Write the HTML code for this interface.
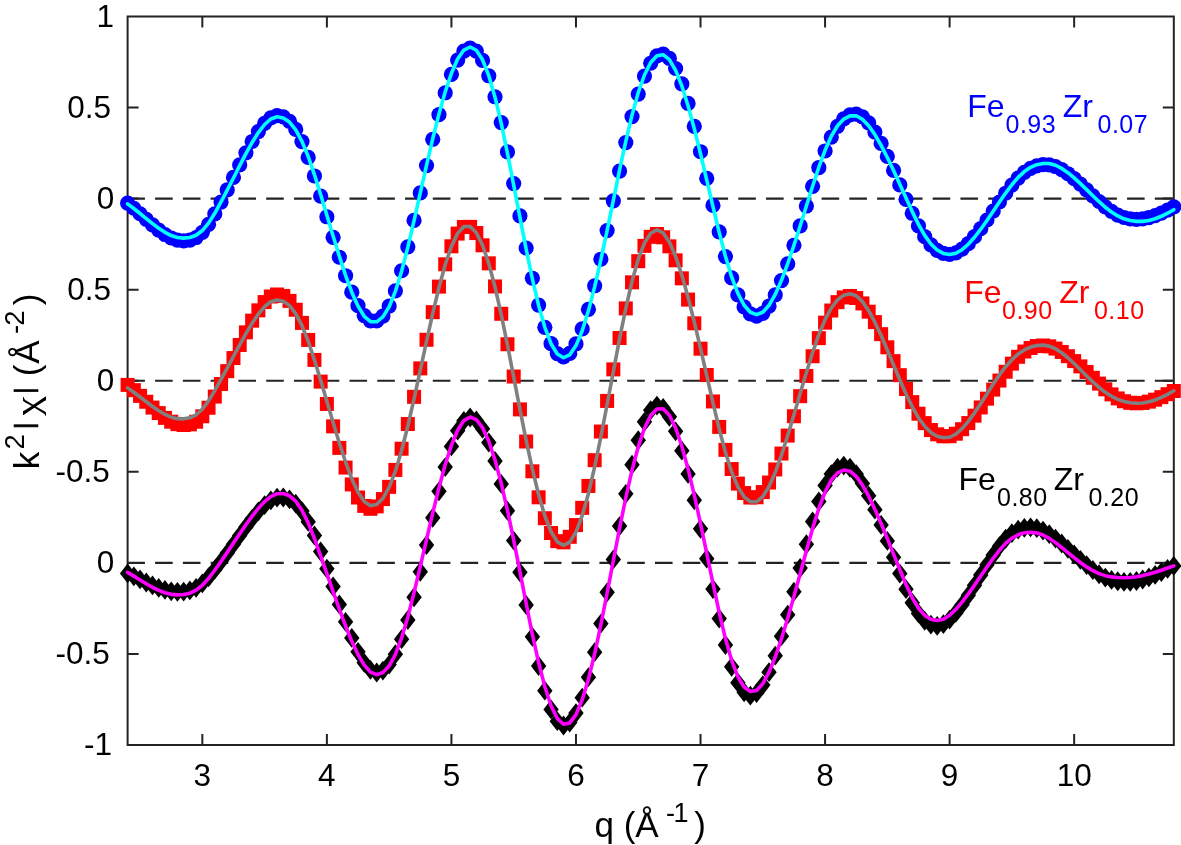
<!DOCTYPE html><html><head><meta charset="utf-8"><title>plot</title><style>html,body{margin:0;padding:0;background:#fff;overflow:hidden}svg{display:block}</style></head><body><svg width="1181" height="845" viewBox="0 0 1181 845"><rect width="1181" height="845" fill="#fff"/><path d="M202.33 745.0V734.0M202.33 16.5V27.5M326.88 745.0V734.0M326.88 16.5V27.5M451.42 745.0V734.0M451.42 16.5V27.5M575.97 745.0V734.0M575.97 16.5V27.5M700.52 745.0V734.0M700.52 16.5V27.5M825.07 745.0V734.0M825.07 16.5V27.5M949.61 745.0V734.0M949.61 16.5V27.5M1074.16 745.0V734.0M1074.16 16.5V27.5M127.6 107.56H138.6M1173.8 107.56H1162.8M127.6 198.62H138.6M1173.8 198.62H1162.8M127.6 289.69H138.6M1173.8 289.69H1162.8M127.6 380.75H138.6M1173.8 380.75H1162.8M127.6 471.81H138.6M1173.8 471.81H1162.8M127.6 562.88H138.6M1173.8 562.88H1162.8M127.6 653.94H138.6M1173.8 653.94H1162.8" stroke="#232323" stroke-width="2" fill="none"/><rect x="127.6" y="16.5" width="1046.20" height="728.50" fill="none" stroke="#232323" stroke-width="2"/><line x1="127.33" y1="198.62" x2="1173.8" y2="198.62" stroke="#232323" stroke-width="2.2" stroke-dasharray="17.6 10.17"/><line x1="127.33" y1="380.75" x2="1173.8" y2="380.75" stroke="#232323" stroke-width="2.2" stroke-dasharray="17.6 10.17"/><line x1="127.33" y1="562.88" x2="1173.8" y2="562.88" stroke="#232323" stroke-width="2.2" stroke-dasharray="17.6 10.17"/><g fill="#0000ff"><circle cx="127.60" cy="203.10" r="7.6"/><circle cx="133.83" cy="208.25" r="7.6"/><circle cx="140.05" cy="213.75" r="7.6"/><circle cx="146.28" cy="219.39" r="7.6"/><circle cx="152.51" cy="224.92" r="7.6"/><circle cx="158.74" cy="230.07" r="7.6"/><circle cx="164.96" cy="234.52" r="7.6"/><circle cx="171.19" cy="237.98" r="7.6"/><circle cx="177.42" cy="240.14" r="7.6"/><circle cx="183.65" cy="240.80" r="7.6"/><circle cx="189.87" cy="240.08" r="7.6"/><circle cx="196.10" cy="237.51" r="7.6"/><circle cx="202.33" cy="232.35" r="7.6"/><circle cx="208.56" cy="224.36" r="7.6"/><circle cx="214.78" cy="213.93" r="7.6"/><circle cx="221.01" cy="202.09" r="7.6"/><circle cx="227.24" cy="189.92" r="7.6"/><circle cx="233.47" cy="177.41" r="7.6"/><circle cx="239.69" cy="164.89" r="7.6"/><circle cx="245.92" cy="152.78" r="7.6"/><circle cx="252.15" cy="141.49" r="7.6"/><circle cx="258.38" cy="131.52" r="7.6"/><circle cx="264.60" cy="123.45" r="7.6"/><circle cx="270.83" cy="117.92" r="7.6"/><circle cx="277.06" cy="115.71" r="7.6"/><circle cx="283.28" cy="116.88" r="7.6"/><circle cx="289.51" cy="121.27" r="7.6"/><circle cx="295.74" cy="129.45" r="7.6"/><circle cx="301.97" cy="141.60" r="7.6"/><circle cx="308.19" cy="157.38" r="7.6"/><circle cx="314.42" cy="175.98" r="7.6"/><circle cx="320.65" cy="196.16" r="7.6"/><circle cx="326.88" cy="216.77" r="7.6"/><circle cx="333.10" cy="237.34" r="7.6"/><circle cx="339.33" cy="257.23" r="7.6"/><circle cx="345.56" cy="275.74" r="7.6"/><circle cx="351.79" cy="292.16" r="7.6"/><circle cx="358.01" cy="305.70" r="7.6"/><circle cx="364.24" cy="315.54" r="7.6"/><circle cx="370.47" cy="320.83" r="7.6"/><circle cx="376.70" cy="320.91" r="7.6"/><circle cx="382.92" cy="316.08" r="7.6"/><circle cx="389.15" cy="306.05" r="7.6"/><circle cx="395.38" cy="290.80" r="7.6"/><circle cx="401.60" cy="270.75" r="7.6"/><circle cx="407.83" cy="246.85" r="7.6"/><circle cx="414.06" cy="220.40" r="7.6"/><circle cx="420.29" cy="192.94" r="7.6"/><circle cx="426.51" cy="165.62" r="7.6"/><circle cx="432.74" cy="139.26" r="7.6"/><circle cx="438.97" cy="114.70" r="7.6"/><circle cx="445.20" cy="92.76" r="7.6"/><circle cx="451.42" cy="74.29" r="7.6"/><circle cx="457.65" cy="60.12" r="7.6"/><circle cx="463.88" cy="51.10" r="7.6"/><circle cx="470.11" cy="48.00" r="7.6"/><circle cx="476.33" cy="51.12" r="7.6"/><circle cx="482.56" cy="60.39" r="7.6"/><circle cx="488.79" cy="75.76" r="7.6"/><circle cx="495.02" cy="96.76" r="7.6"/><circle cx="501.24" cy="122.54" r="7.6"/><circle cx="507.47" cy="151.95" r="7.6"/><circle cx="513.70" cy="183.57" r="7.6"/><circle cx="519.93" cy="215.94" r="7.6"/><circle cx="526.15" cy="248.00" r="7.6"/><circle cx="532.38" cy="278.24" r="7.6"/><circle cx="538.61" cy="305.12" r="7.6"/><circle cx="544.83" cy="327.28" r="7.6"/><circle cx="551.06" cy="343.66" r="7.6"/><circle cx="557.29" cy="353.59" r="7.6"/><circle cx="563.52" cy="356.80" r="7.6"/><circle cx="569.74" cy="353.42" r="7.6"/><circle cx="575.97" cy="343.92" r="7.6"/><circle cx="582.20" cy="328.95" r="7.6"/><circle cx="588.43" cy="309.29" r="7.6"/><circle cx="594.65" cy="285.76" r="7.6"/><circle cx="600.88" cy="259.23" r="7.6"/><circle cx="607.11" cy="230.61" r="7.6"/><circle cx="613.34" cy="200.86" r="7.6"/><circle cx="619.56" cy="171.07" r="7.6"/><circle cx="625.79" cy="142.55" r="7.6"/><circle cx="632.02" cy="116.53" r="7.6"/><circle cx="638.25" cy="94.08" r="7.6"/><circle cx="644.47" cy="76.10" r="7.6"/><circle cx="650.70" cy="63.23" r="7.6"/><circle cx="656.93" cy="55.85" r="7.6"/><circle cx="663.15" cy="54.11" r="7.6"/><circle cx="669.38" cy="58.39" r="7.6"/><circle cx="675.61" cy="68.50" r="7.6"/><circle cx="681.84" cy="83.78" r="7.6"/><circle cx="688.06" cy="103.38" r="7.6"/><circle cx="694.29" cy="126.36" r="7.6"/><circle cx="700.52" cy="151.73" r="7.6"/><circle cx="706.75" cy="178.42" r="7.6"/><circle cx="712.97" cy="205.43" r="7.6"/><circle cx="719.20" cy="231.93" r="7.6"/><circle cx="725.43" cy="256.55" r="7.6"/><circle cx="731.66" cy="277.90" r="7.6"/><circle cx="737.88" cy="294.91" r="7.6"/><circle cx="744.11" cy="306.97" r="7.6"/><circle cx="750.34" cy="313.93" r="7.6"/><circle cx="756.57" cy="316.10" r="7.6"/><circle cx="762.79" cy="313.46" r="7.6"/><circle cx="769.02" cy="306.13" r="7.6"/><circle cx="775.25" cy="294.91" r="7.6"/><circle cx="781.48" cy="280.55" r="7.6"/><circle cx="787.70" cy="263.81" r="7.6"/><circle cx="793.93" cy="245.37" r="7.6"/><circle cx="800.16" cy="225.90" r="7.6"/><circle cx="806.38" cy="206.01" r="7.6"/><circle cx="812.61" cy="186.31" r="7.6"/><circle cx="818.84" cy="167.66" r="7.6"/><circle cx="825.07" cy="150.98" r="7.6"/><circle cx="831.29" cy="137.03" r="7.6"/><circle cx="837.52" cy="126.28" r="7.6"/><circle cx="843.75" cy="118.94" r="7.6"/><circle cx="849.98" cy="114.95" r="7.6"/><circle cx="856.20" cy="114.08" r="7.6"/><circle cx="862.43" cy="116.77" r="7.6"/><circle cx="868.66" cy="122.94" r="7.6"/><circle cx="874.89" cy="132.02" r="7.6"/><circle cx="881.11" cy="143.38" r="7.6"/><circle cx="887.34" cy="156.39" r="7.6"/><circle cx="893.57" cy="170.44" r="7.6"/><circle cx="899.80" cy="184.95" r="7.6"/><circle cx="906.02" cy="199.36" r="7.6"/><circle cx="912.25" cy="213.26" r="7.6"/><circle cx="918.48" cy="225.95" r="7.6"/><circle cx="924.70" cy="236.64" r="7.6"/><circle cx="930.93" cy="244.84" r="7.6"/><circle cx="937.16" cy="250.39" r="7.6"/><circle cx="943.39" cy="253.43" r="7.6"/><circle cx="949.61" cy="254.30" r="7.6"/><circle cx="955.84" cy="252.90" r="7.6"/><circle cx="962.07" cy="249.20" r="7.6"/><circle cx="968.30" cy="243.64" r="7.6"/><circle cx="974.52" cy="236.66" r="7.6"/><circle cx="980.75" cy="228.66" r="7.6"/><circle cx="986.98" cy="220.00" r="7.6"/><circle cx="993.21" cy="211.01" r="7.6"/><circle cx="999.43" cy="202.00" r="7.6"/><circle cx="1005.66" cy="193.24" r="7.6"/><circle cx="1011.89" cy="185.10" r="7.6"/><circle cx="1018.12" cy="178.06" r="7.6"/><circle cx="1024.34" cy="172.44" r="7.6"/><circle cx="1030.57" cy="168.39" r="7.6"/><circle cx="1036.80" cy="165.86" r="7.6"/><circle cx="1043.02" cy="164.72" r="7.6"/><circle cx="1049.25" cy="164.84" r="7.6"/><circle cx="1055.48" cy="166.52" r="7.6"/><circle cx="1061.71" cy="169.58" r="7.6"/><circle cx="1067.93" cy="173.73" r="7.6"/><circle cx="1074.16" cy="178.69" r="7.6"/><circle cx="1080.39" cy="184.18" r="7.6"/><circle cx="1086.62" cy="189.97" r="7.6"/><circle cx="1092.84" cy="195.81" r="7.6"/><circle cx="1099.07" cy="201.50" r="7.6"/><circle cx="1105.30" cy="206.84" r="7.6"/><circle cx="1111.53" cy="211.46" r="7.6"/><circle cx="1117.75" cy="215.05" r="7.6"/><circle cx="1123.98" cy="217.50" r="7.6"/><circle cx="1130.21" cy="218.86" r="7.6"/><circle cx="1136.44" cy="219.30" r="7.6"/><circle cx="1142.66" cy="218.91" r="7.6"/><circle cx="1148.89" cy="217.67" r="7.6"/><circle cx="1155.12" cy="215.68" r="7.6"/><circle cx="1161.35" cy="213.10" r="7.6"/><circle cx="1167.57" cy="210.09" r="7.6"/><circle cx="1173.80" cy="206.80" r="7.6"/></g><path d="M127.60,203.90 L133.83,208.52 L140.05,213.47 L146.28,218.58 L152.51,223.61 L158.74,228.30 L164.96,232.36 L171.19,235.52 L177.42,237.50 L183.65,238.10 L189.87,237.50 L196.10,235.23 L202.33,230.55 L208.56,223.13 L214.78,213.28 L221.01,201.96 L227.24,190.20 L233.47,177.98 L239.69,165.67 L245.92,153.67 L252.15,142.45 L258.38,132.53 L264.60,124.49 L270.83,119.01 L277.06,116.81 L283.28,117.92 L289.51,122.06 L295.74,129.79 L301.97,141.33 L308.19,156.49 L314.42,174.58 L320.65,194.52 L326.88,215.17 L333.10,235.99 L339.33,256.28 L345.56,275.28 L351.79,292.19 L358.01,306.15 L364.24,316.29 L370.47,321.71 L376.70,321.80 L382.92,316.90 L389.15,306.78 L395.38,291.40 L401.60,271.23 L407.83,247.18 L414.06,220.56 L420.29,192.89 L426.51,165.36 L432.74,138.78 L438.97,114.02 L445.20,91.92 L451.42,73.32 L457.65,59.07 L463.88,50.03 L470.11,47.00 L476.33,50.27 L482.56,59.84 L488.79,75.63 L495.02,97.14 L501.24,123.45 L507.47,153.27 L513.70,185.11 L519.93,217.44 L526.15,249.18 L532.38,278.94 L538.61,305.38 L544.83,327.30 L551.06,343.73 L557.29,353.98 L563.52,357.69 L569.74,354.79 L575.97,345.59 L582.20,330.69 L588.43,310.83 L594.65,286.90 L600.88,259.83 L607.11,230.65 L613.34,200.40 L619.56,170.21 L625.79,141.35 L632.02,115.14 L638.25,92.72 L644.47,74.98 L650.70,62.56 L656.93,55.78 L663.15,54.68 L669.38,59.64 L675.61,70.30 L681.84,85.95 L688.06,105.72 L694.29,128.65 L700.52,153.77 L706.75,180.07 L712.97,206.57 L719.20,232.40 L725.43,256.26 L731.66,276.91 L737.88,293.41 L744.11,305.23 L750.34,312.22 L756.57,314.59 L762.79,312.30 L769.02,305.32 L775.25,294.40 L781.48,280.29 L787.70,263.72 L793.93,245.39 L800.16,225.94 L806.38,206.03 L812.61,186.21 L818.84,167.23 L825.07,150.26 L831.29,136.24 L837.52,125.77 L843.75,119.03 L849.98,115.83 L856.20,115.79 L862.43,119.21 L868.66,125.66 L874.89,134.55 L881.11,145.31 L887.34,157.47 L893.57,170.57 L899.80,184.22 L906.02,198.01 L912.25,211.62 L918.48,224.36 L924.70,235.36 L930.93,244.01 L937.16,250.02 L943.39,253.41 L949.61,254.50 L955.84,253.29 L962.07,249.72 L968.30,244.23 L974.52,237.26 L980.75,229.20 L986.98,220.44 L993.21,211.29 L999.43,202.08 L1005.66,193.09 L1011.89,184.71 L1018.12,177.42 L1024.34,171.57 L1030.57,167.31 L1036.80,164.65 L1043.03,163.43 L1049.25,163.54 L1055.48,165.26 L1061.71,168.41 L1067.93,172.71 L1074.16,177.87 L1080.39,183.61 L1086.62,189.66 L1092.84,195.77 L1099.07,201.71 L1105.30,207.25 L1111.53,212.07 L1117.75,215.94 L1123.98,218.77 L1130.21,220.55 L1136.44,221.39 L1142.66,221.40 L1148.89,220.49 L1155.12,218.74 L1161.35,216.26 L1167.57,213.20 L1173.80,209.70" fill="none" stroke="#00ffff" stroke-width="3.6" stroke-linejoin="round" stroke-linecap="round"/><g fill="#ff0000"><rect x="120.60" y="377.90" width="14.0" height="14.0"/><rect x="126.83" y="383.16" width="14.0" height="14.0"/><rect x="133.05" y="388.84" width="14.0" height="14.0"/><rect x="139.28" y="394.74" width="14.0" height="14.0"/><rect x="145.51" y="400.59" width="14.0" height="14.0"/><rect x="151.74" y="406.09" width="14.0" height="14.0"/><rect x="157.96" y="410.90" width="14.0" height="14.0"/><rect x="164.19" y="414.69" width="14.0" height="14.0"/><rect x="170.42" y="417.15" width="14.0" height="14.0"/><rect x="176.65" y="418.00" width="14.0" height="14.0"/><rect x="182.87" y="417.36" width="14.0" height="14.0"/><rect x="189.10" y="414.74" width="14.0" height="14.0"/><rect x="195.33" y="409.29" width="14.0" height="14.0"/><rect x="201.56" y="400.75" width="14.0" height="14.0"/><rect x="207.78" y="389.58" width="14.0" height="14.0"/><rect x="214.01" y="377.00" width="14.0" height="14.0"/><rect x="220.24" y="364.17" width="14.0" height="14.0"/><rect x="226.47" y="351.05" width="14.0" height="14.0"/><rect x="232.69" y="337.97" width="14.0" height="14.0"/><rect x="238.92" y="325.36" width="14.0" height="14.0"/><rect x="245.15" y="313.65" width="14.0" height="14.0"/><rect x="251.38" y="303.35" width="14.0" height="14.0"/><rect x="257.60" y="295.07" width="14.0" height="14.0"/><rect x="263.83" y="289.52" width="14.0" height="14.0"/><rect x="270.06" y="287.50" width="14.0" height="14.0"/><rect x="276.28" y="288.96" width="14.0" height="14.0"/><rect x="282.51" y="293.85" width="14.0" height="14.0"/><rect x="288.74" y="302.77" width="14.0" height="14.0"/><rect x="294.97" y="315.90" width="14.0" height="14.0"/><rect x="301.19" y="332.92" width="14.0" height="14.0"/><rect x="307.42" y="352.94" width="14.0" height="14.0"/><rect x="313.65" y="374.63" width="14.0" height="14.0"/><rect x="319.88" y="396.97" width="14.0" height="14.0"/><rect x="326.10" y="419.36" width="14.0" height="14.0"/><rect x="332.33" y="440.88" width="14.0" height="14.0"/><rect x="338.56" y="460.57" width="14.0" height="14.0"/><rect x="344.79" y="477.43" width="14.0" height="14.0"/><rect x="351.01" y="490.52" width="14.0" height="14.0"/><rect x="357.24" y="498.90" width="14.0" height="14.0"/><rect x="363.47" y="501.80" width="14.0" height="14.0"/><rect x="369.70" y="499.38" width="14.0" height="14.0"/><rect x="375.92" y="492.07" width="14.0" height="14.0"/><rect x="382.15" y="479.85" width="14.0" height="14.0"/><rect x="388.38" y="462.91" width="14.0" height="14.0"/><rect x="394.60" y="441.71" width="14.0" height="14.0"/><rect x="400.83" y="417.02" width="14.0" height="14.0"/><rect x="407.06" y="389.85" width="14.0" height="14.0"/><rect x="413.29" y="361.39" width="14.0" height="14.0"/><rect x="419.51" y="332.79" width="14.0" height="14.0"/><rect x="425.74" y="305.15" width="14.0" height="14.0"/><rect x="431.97" y="279.61" width="14.0" height="14.0"/><rect x="438.20" y="257.30" width="14.0" height="14.0"/><rect x="444.42" y="239.31" width="14.0" height="14.0"/><rect x="450.65" y="226.59" width="14.0" height="14.0"/><rect x="456.88" y="219.95" width="14.0" height="14.0"/><rect x="463.11" y="219.87" width="14.0" height="14.0"/><rect x="469.33" y="226.05" width="14.0" height="14.0"/><rect x="475.56" y="238.32" width="14.0" height="14.0"/><rect x="481.79" y="256.33" width="14.0" height="14.0"/><rect x="488.02" y="279.45" width="14.0" height="14.0"/><rect x="494.24" y="306.79" width="14.0" height="14.0"/><rect x="500.47" y="337.24" width="14.0" height="14.0"/><rect x="506.70" y="369.53" width="14.0" height="14.0"/><rect x="512.93" y="402.38" width="14.0" height="14.0"/><rect x="519.15" y="434.50" width="14.0" height="14.0"/><rect x="525.38" y="464.32" width="14.0" height="14.0"/><rect x="531.61" y="490.32" width="14.0" height="14.0"/><rect x="537.83" y="511.23" width="14.0" height="14.0"/><rect x="544.06" y="526.03" width="14.0" height="14.0"/><rect x="550.29" y="534.13" width="14.0" height="14.0"/><rect x="556.52" y="535.34" width="14.0" height="14.0"/><rect x="562.74" y="529.80" width="14.0" height="14.0"/><rect x="568.97" y="518.06" width="14.0" height="14.0"/><rect x="575.20" y="500.84" width="14.0" height="14.0"/><rect x="581.43" y="478.93" width="14.0" height="14.0"/><rect x="587.65" y="453.19" width="14.0" height="14.0"/><rect x="593.88" y="424.53" width="14.0" height="14.0"/><rect x="600.11" y="393.92" width="14.0" height="14.0"/><rect x="606.34" y="362.38" width="14.0" height="14.0"/><rect x="612.56" y="330.99" width="14.0" height="14.0"/><rect x="618.79" y="301.41" width="14.0" height="14.0"/><rect x="625.02" y="275.34" width="14.0" height="14.0"/><rect x="631.25" y="254.17" width="14.0" height="14.0"/><rect x="637.47" y="238.85" width="14.0" height="14.0"/><rect x="643.70" y="229.83" width="14.0" height="14.0"/><rect x="649.93" y="227.00" width="14.0" height="14.0"/><rect x="656.15" y="230.29" width="14.0" height="14.0"/><rect x="662.38" y="239.35" width="14.0" height="14.0"/><rect x="668.61" y="253.31" width="14.0" height="14.0"/><rect x="674.84" y="271.34" width="14.0" height="14.0"/><rect x="681.06" y="292.60" width="14.0" height="14.0"/><rect x="687.29" y="316.30" width="14.0" height="14.0"/><rect x="693.52" y="341.69" width="14.0" height="14.0"/><rect x="699.75" y="367.99" width="14.0" height="14.0"/><rect x="705.97" y="394.44" width="14.0" height="14.0"/><rect x="712.20" y="419.91" width="14.0" height="14.0"/><rect x="718.43" y="442.87" width="14.0" height="14.0"/><rect x="724.66" y="462.06" width="14.0" height="14.0"/><rect x="730.88" y="476.59" width="14.0" height="14.0"/><rect x="737.11" y="486.06" width="14.0" height="14.0"/><rect x="743.34" y="490.51" width="14.0" height="14.0"/><rect x="749.57" y="490.26" width="14.0" height="14.0"/><rect x="755.79" y="485.07" width="14.0" height="14.0"/><rect x="762.02" y="475.53" width="14.0" height="14.0"/><rect x="768.25" y="462.44" width="14.0" height="14.0"/><rect x="774.48" y="446.55" width="14.0" height="14.0"/><rect x="780.70" y="428.59" width="14.0" height="14.0"/><rect x="786.93" y="409.25" width="14.0" height="14.0"/><rect x="793.16" y="389.16" width="14.0" height="14.0"/><rect x="799.38" y="368.95" width="14.0" height="14.0"/><rect x="805.61" y="349.24" width="14.0" height="14.0"/><rect x="811.84" y="331.13" width="14.0" height="14.0"/><rect x="818.07" y="315.65" width="14.0" height="14.0"/><rect x="824.29" y="303.53" width="14.0" height="14.0"/><rect x="830.52" y="295.13" width="14.0" height="14.0"/><rect x="836.75" y="290.40" width="14.0" height="14.0"/><rect x="842.98" y="289.00" width="14.0" height="14.0"/><rect x="849.20" y="291.02" width="14.0" height="14.0"/><rect x="855.43" y="296.45" width="14.0" height="14.0"/><rect x="861.66" y="304.68" width="14.0" height="14.0"/><rect x="867.89" y="315.09" width="14.0" height="14.0"/><rect x="874.11" y="327.14" width="14.0" height="14.0"/><rect x="880.34" y="340.31" width="14.0" height="14.0"/><rect x="886.57" y="354.13" width="14.0" height="14.0"/><rect x="892.80" y="368.15" width="14.0" height="14.0"/><rect x="899.02" y="381.98" width="14.0" height="14.0"/><rect x="905.25" y="395.11" width="14.0" height="14.0"/><rect x="911.48" y="406.71" width="14.0" height="14.0"/><rect x="917.70" y="416.13" width="14.0" height="14.0"/><rect x="923.93" y="423.01" width="14.0" height="14.0"/><rect x="930.16" y="427.32" width="14.0" height="14.0"/><rect x="936.39" y="429.28" width="14.0" height="14.0"/><rect x="942.61" y="429.17" width="14.0" height="14.0"/><rect x="948.84" y="426.70" width="14.0" height="14.0"/><rect x="955.07" y="422.19" width="14.0" height="14.0"/><rect x="961.30" y="416.05" width="14.0" height="14.0"/><rect x="967.52" y="408.68" width="14.0" height="14.0"/><rect x="973.75" y="400.45" width="14.0" height="14.0"/><rect x="979.98" y="391.66" width="14.0" height="14.0"/><rect x="986.21" y="382.60" width="14.0" height="14.0"/><rect x="992.43" y="373.56" width="14.0" height="14.0"/><rect x="998.66" y="364.75" width="14.0" height="14.0"/><rect x="1004.89" y="356.65" width="14.0" height="14.0"/><rect x="1011.12" y="349.79" width="14.0" height="14.0"/><rect x="1017.34" y="344.53" width="14.0" height="14.0"/><rect x="1023.57" y="340.98" width="14.0" height="14.0"/><rect x="1029.80" y="339.05" width="14.0" height="14.0"/><rect x="1036.02" y="338.50" width="14.0" height="14.0"/><rect x="1042.25" y="339.34" width="14.0" height="14.0"/><rect x="1048.48" y="341.59" width="14.0" height="14.0"/><rect x="1054.71" y="344.96" width="14.0" height="14.0"/><rect x="1060.93" y="349.19" width="14.0" height="14.0"/><rect x="1067.16" y="354.07" width="14.0" height="14.0"/><rect x="1073.39" y="359.40" width="14.0" height="14.0"/><rect x="1079.62" y="365.03" width="14.0" height="14.0"/><rect x="1085.84" y="370.81" width="14.0" height="14.0"/><rect x="1092.07" y="376.61" width="14.0" height="14.0"/><rect x="1098.30" y="382.30" width="14.0" height="14.0"/><rect x="1104.53" y="387.38" width="14.0" height="14.0"/><rect x="1110.75" y="391.43" width="14.0" height="14.0"/><rect x="1116.98" y="394.24" width="14.0" height="14.0"/><rect x="1123.21" y="395.80" width="14.0" height="14.0"/><rect x="1129.44" y="396.30" width="14.0" height="14.0"/><rect x="1135.66" y="395.91" width="14.0" height="14.0"/><rect x="1141.89" y="394.65" width="14.0" height="14.0"/><rect x="1148.12" y="392.66" width="14.0" height="14.0"/><rect x="1154.35" y="390.11" width="14.0" height="14.0"/><rect x="1160.57" y="387.17" width="14.0" height="14.0"/><rect x="1166.80" y="384.00" width="14.0" height="14.0"/></g><path d="M127.60,387.90 L133.83,392.26 L140.05,396.94 L146.28,401.75 L152.51,406.46 L158.74,410.78 L164.96,414.44 L171.19,417.15 L177.42,418.66 L183.65,418.83 L189.87,417.79 L196.10,414.78 L202.33,409.16 L208.56,400.88 L214.78,390.58 L221.01,379.49 L227.24,368.11 L233.47,356.45 L239.69,344.83 L245.92,333.62 L252.15,323.19 L258.38,314.01 L264.60,306.62 L270.83,301.67 L277.06,299.90 L283.28,301.20 L289.51,305.55 L295.74,313.58 L301.97,325.56 L308.19,341.26 L314.42,359.91 L320.65,380.25 L326.88,401.26 L333.10,422.43 L339.33,442.98 L345.56,462.06 L351.79,478.78 L358.01,492.22 L364.24,501.47 L370.47,505.64 L376.70,504.44 L382.92,498.41 L389.15,487.31 L395.38,471.21 L401.60,450.50 L407.83,425.98 L414.06,398.75 L420.29,370.18 L426.51,341.36 L432.74,313.39 L438.97,287.46 L445.20,264.74 L451.42,246.38 L457.65,233.37 L463.88,226.57 L470.11,226.47 L476.33,232.74 L482.56,245.22 L488.79,263.53 L495.02,286.98 L501.24,314.57 L507.47,345.07 L513.70,377.11 L519.93,409.26 L526.15,440.32 L532.38,469.12 L538.61,494.61 L544.83,515.77 L551.06,531.75 L557.29,541.82 L563.52,545.40 L569.74,542.12 L575.97,532.04 L582.20,515.60 L588.43,493.53 L594.65,466.85 L600.88,436.74 L607.11,404.51 L613.34,371.56 L619.56,338.96 L625.79,308.30 L632.02,281.23 L638.25,259.14 L644.47,242.99 L650.70,233.25 L656.93,229.91 L663.15,232.92 L669.38,242.03 L675.61,256.38 L681.84,275.07 L688.06,297.22 L694.29,321.94 L700.52,348.38 L706.75,375.67 L712.97,402.93 L719.20,428.93 L725.43,452.28 L731.66,471.86 L737.88,486.84 L744.11,496.80 L750.34,501.74 L756.57,501.80 L762.79,496.54 L769.02,486.46 L775.25,472.36 L781.48,455.12 L787.70,435.64 L793.93,414.81 L800.16,393.48 L806.38,372.44 L812.61,352.52 L818.84,334.68 L825.07,319.69 L831.29,308.02 L837.52,299.86 L843.75,295.17 L849.98,293.70 L856.20,295.79 L862.43,301.64 L868.66,310.65 L874.89,322.18 L881.11,335.53 L887.34,350.01 L893.57,364.97 L899.80,379.80 L906.02,393.96 L912.25,406.80 L918.48,417.70 L924.70,426.30 L930.93,432.45 L937.16,436.21 L943.39,437.80 L949.61,437.26 L955.84,434.11 L962.07,428.68 L968.30,421.43 L974.52,412.84 L980.75,403.43 L986.98,393.69 L993.21,384.05 L999.43,374.91 L1005.66,366.70 L1011.89,359.70 L1018.12,354.09 L1024.34,349.91 L1030.57,347.09 L1036.80,345.53 L1043.03,345.11 L1049.25,346.14 L1055.48,348.75 L1061.71,352.73 L1067.93,357.76 L1074.16,363.53 L1080.39,369.69 L1086.62,375.92 L1092.84,381.92 L1099.07,387.46 L1105.30,392.31 L1111.53,396.29 L1117.75,399.33 L1123.98,401.44 L1130.21,402.69 L1136.44,403.18 L1142.66,402.94 L1148.89,401.84 L1155.12,399.97 L1161.35,397.42 L1167.57,394.32 L1173.80,390.80" fill="none" stroke="#808080" stroke-width="3.6" stroke-linejoin="round" stroke-linecap="round"/><g fill="#000"><path d="M127.60 563.50L135.30 573.40L127.60 583.30L119.90 573.40Z"/><path d="M133.83 566.44L141.53 576.34L133.83 586.24L126.13 576.34Z"/><path d="M140.05 569.52L147.75 579.42L140.05 589.32L132.35 579.42Z"/><path d="M146.28 572.59L153.98 582.49L146.28 592.39L138.58 582.49Z"/><path d="M152.51 575.49L160.21 585.39L152.51 595.29L144.81 585.39Z"/><path d="M158.74 578.04L166.44 587.94L158.74 597.84L151.04 587.94Z"/><path d="M164.96 580.07L172.66 589.97L164.96 599.87L157.26 589.97Z"/><path d="M171.19 581.41L178.89 591.31L171.19 601.21L163.49 591.31Z"/><path d="M177.42 581.90L185.12 591.80L177.42 601.70L169.72 591.80Z"/><path d="M183.65 581.66L191.35 591.56L183.65 601.46L175.95 591.56Z"/><path d="M189.87 580.53L197.57 590.43L189.87 600.33L182.17 590.43Z"/><path d="M196.10 577.94L203.80 587.84L196.10 597.74L188.40 587.84Z"/><path d="M202.33 573.54L210.03 583.44L202.33 593.34L194.63 583.44Z"/><path d="M208.56 567.35L216.26 577.25L208.56 587.15L200.86 577.25Z"/><path d="M214.78 559.79L222.48 569.69L214.78 579.59L207.08 569.69Z"/><path d="M221.01 551.65L228.71 561.55L221.01 571.45L213.31 561.55Z"/><path d="M227.24 543.19L234.94 553.09L227.24 562.99L219.54 553.09Z"/><path d="M233.47 534.46L241.17 544.36L233.47 554.26L225.77 544.36Z"/><path d="M239.69 525.66L247.39 535.56L239.69 545.46L231.99 535.56Z"/><path d="M245.92 517.05L253.62 526.95L245.92 536.85L238.22 526.95Z"/><path d="M252.15 508.89L259.85 518.79L252.15 528.69L244.45 518.79Z"/><path d="M258.38 501.47L266.07 511.37L258.38 521.27L250.68 511.37Z"/><path d="M264.60 495.17L272.30 505.07L264.60 514.97L256.90 505.07Z"/><path d="M270.83 490.43L278.53 500.33L270.83 510.23L263.13 500.33Z"/><path d="M277.06 487.77L284.76 497.67L277.06 507.57L269.36 497.67Z"/><path d="M283.28 487.59L290.98 497.49L283.28 507.39L275.58 497.49Z"/><path d="M289.51 489.42L297.21 499.32L289.51 509.22L281.81 499.32Z"/><path d="M295.74 493.79L303.44 503.69L295.74 513.59L288.04 503.69Z"/><path d="M301.97 501.22L309.67 511.12L301.97 521.02L294.27 511.12Z"/><path d="M308.19 511.91L315.89 521.81L308.19 531.71L300.49 521.81Z"/><path d="M314.42 525.62L322.12 535.52L314.42 545.42L306.72 535.52Z"/><path d="M320.65 541.60L328.35 551.50L320.65 561.40L312.95 551.50Z"/><path d="M326.88 558.78L334.58 568.68L326.88 578.58L319.18 568.68Z"/><path d="M333.10 576.60L340.80 586.50L333.10 596.40L325.40 586.50Z"/><path d="M339.33 594.55L347.03 604.45L339.33 614.35L331.63 604.45Z"/><path d="M345.56 611.93L353.26 621.83L345.56 631.73L337.86 621.83Z"/><path d="M351.79 627.98L359.49 637.88L351.79 647.78L344.09 637.88Z"/><path d="M358.01 641.91L365.71 651.81L358.01 661.71L350.31 651.81Z"/><path d="M364.24 652.88L371.94 662.78L364.24 672.68L356.54 662.78Z"/><path d="M370.47 660.05L378.17 669.95L370.47 679.85L362.77 669.95Z"/><path d="M376.70 662.60L384.40 672.50L376.70 682.40L369.00 672.50Z"/><path d="M382.92 660.70L390.62 670.60L382.92 680.50L375.22 670.60Z"/><path d="M389.15 654.69L396.85 664.59L389.15 674.49L381.45 664.59Z"/><path d="M395.38 644.24L403.08 654.14L395.38 664.04L387.68 654.14Z"/><path d="M401.60 629.30L409.30 639.20L401.60 649.10L393.90 639.20Z"/><path d="M407.83 610.12L415.53 620.02L407.83 629.92L400.13 620.02Z"/><path d="M414.06 587.33L421.76 597.23L414.06 607.13L406.36 597.23Z"/><path d="M420.29 561.95L427.99 571.85L420.29 581.75L412.59 571.85Z"/><path d="M426.51 535.15L434.21 545.05L426.51 554.95L418.81 545.05Z"/><path d="M432.74 507.87L440.44 517.77L432.74 527.67L425.04 517.77Z"/><path d="M438.97 481.39L446.67 491.29L438.97 501.19L431.27 491.29Z"/><path d="M445.20 457.13L452.90 467.03L445.20 476.93L437.50 467.03Z"/><path d="M451.42 436.50L459.12 446.40L451.42 456.30L443.72 446.40Z"/><path d="M457.65 420.75L465.35 430.65L457.65 440.55L449.95 430.65Z"/><path d="M463.88 410.89L471.58 420.79L463.88 430.69L456.18 420.79Z"/><path d="M470.11 407.60L477.81 417.50L470.11 427.40L462.41 417.50Z"/><path d="M476.33 410.52L484.03 420.42L476.33 430.32L468.63 420.42Z"/><path d="M482.56 418.93L490.26 428.83L482.56 438.73L474.86 428.83Z"/><path d="M488.79 432.58L496.49 442.48L488.79 452.38L481.09 442.48Z"/><path d="M495.02 451.11L502.72 461.01L495.02 470.91L487.32 461.01Z"/><path d="M501.24 474.07L508.94 483.97L501.24 493.87L493.54 483.97Z"/><path d="M507.47 500.84L515.17 510.74L507.47 520.64L499.77 510.74Z"/><path d="M513.70 530.63L521.40 540.53L513.70 550.43L506.00 540.53Z"/><path d="M519.93 562.44L527.63 572.34L519.93 582.24L512.23 572.34Z"/><path d="M526.15 595.10L533.85 605.00L526.15 614.90L518.45 605.00Z"/><path d="M532.38 626.94L540.08 636.84L532.38 646.74L524.68 636.84Z"/><path d="M538.61 656.09L546.31 665.99L538.61 675.89L530.91 665.99Z"/><path d="M544.83 680.78L552.53 690.68L544.83 700.58L537.13 690.68Z"/><path d="M551.06 699.52L558.76 709.42L551.06 719.32L543.36 709.42Z"/><path d="M557.29 711.28L564.99 721.18L557.29 731.08L549.59 721.18Z"/><path d="M563.52 715.58L571.22 725.48L563.52 735.38L555.82 725.48Z"/><path d="M569.74 712.66L577.44 722.56L569.74 732.46L562.04 722.56Z"/><path d="M575.97 703.19L583.67 713.09L575.97 722.99L568.27 713.09Z"/><path d="M582.20 687.82L589.90 697.72L582.20 707.62L574.50 697.72Z"/><path d="M588.43 667.26L596.13 677.16L588.43 687.06L580.73 677.16Z"/><path d="M594.65 642.28L602.35 652.18L594.65 662.08L586.95 652.18Z"/><path d="M600.88 613.71L608.58 623.61L600.88 633.51L593.18 623.61Z"/><path d="M607.11 582.47L614.81 592.37L607.11 602.27L599.41 592.37Z"/><path d="M613.34 549.57L621.04 559.47L613.34 569.37L605.64 559.47Z"/><path d="M619.56 516.17L627.26 526.07L619.56 535.97L611.86 526.07Z"/><path d="M625.79 483.94L633.49 493.84L625.79 503.74L618.09 493.84Z"/><path d="M632.02 454.76L639.72 464.66L632.02 474.56L624.32 464.66Z"/><path d="M638.25 430.30L645.95 440.20L638.25 450.10L630.55 440.20Z"/><path d="M644.47 411.88L652.17 421.78L644.47 431.68L636.77 421.78Z"/><path d="M650.70 400.28L658.40 410.18L650.70 420.08L643.00 410.18Z"/><path d="M656.93 395.70L664.63 405.60L656.93 415.50L649.23 405.60Z"/><path d="M663.15 398.01L670.85 407.91L663.15 417.81L655.45 407.91Z"/><path d="M669.38 406.86L677.08 416.76L669.38 426.66L661.68 416.76Z"/><path d="M675.61 421.40L683.31 431.30L675.61 441.20L667.91 431.30Z"/><path d="M681.84 440.73L689.54 450.63L681.84 460.53L674.14 450.63Z"/><path d="M688.06 464.00L695.76 473.90L688.06 483.80L680.36 473.90Z"/><path d="M694.29 490.34L701.99 500.24L694.29 510.14L686.59 500.24Z"/><path d="M700.52 518.92L708.22 528.82L700.52 538.72L692.82 528.82Z"/><path d="M706.75 548.82L714.45 558.72L706.75 568.62L699.05 558.72Z"/><path d="M712.97 579.21L720.67 589.11L712.97 599.01L705.27 589.11Z"/><path d="M719.20 608.64L726.90 618.54L719.20 628.44L711.50 618.54Z"/><path d="M725.43 635.11L733.13 645.01L725.43 654.91L717.73 645.01Z"/><path d="M731.66 656.89L739.36 666.79L731.66 676.69L723.96 666.79Z"/><path d="M737.88 672.80L745.58 682.70L737.88 692.60L730.18 682.70Z"/><path d="M744.11 682.36L751.81 692.26L744.11 702.16L736.41 692.26Z"/><path d="M750.34 685.77L758.04 695.67L750.34 705.57L742.64 695.67Z"/><path d="M756.57 683.29L764.27 693.19L756.57 703.09L748.87 693.19Z"/><path d="M762.79 675.14L770.49 685.04L762.79 694.94L755.09 685.04Z"/><path d="M769.02 662.31L776.72 672.21L769.02 682.11L761.32 672.21Z"/><path d="M775.25 645.75L782.95 655.65L775.25 665.55L767.55 655.65Z"/><path d="M781.48 626.29L789.18 636.19L781.48 646.09L773.77 636.19Z"/><path d="M787.70 604.73L795.40 614.63L787.70 624.53L780.00 614.63Z"/><path d="M793.93 581.77L801.63 591.67L793.93 601.57L786.23 591.67Z"/><path d="M800.16 558.10L807.86 568.00L800.16 577.90L792.46 568.00Z"/><path d="M806.38 534.35L814.08 544.25L806.38 554.15L798.68 544.25Z"/><path d="M812.61 511.61L820.31 521.51L812.61 531.41L804.91 521.51Z"/><path d="M818.84 491.55L826.54 501.45L818.84 511.35L811.14 501.45Z"/><path d="M825.07 475.49L832.77 485.39L825.07 495.29L817.37 485.39Z"/><path d="M831.29 464.19L838.99 474.09L831.29 483.99L823.59 474.09Z"/><path d="M837.52 457.75L845.22 467.65L837.52 477.55L829.82 467.65Z"/><path d="M843.75 455.70L851.45 465.60L843.75 475.50L836.05 465.60Z"/><path d="M849.98 457.86L857.68 467.76L849.98 477.66L842.28 467.76Z"/><path d="M856.20 464.15L863.90 474.05L856.20 483.95L848.50 474.05Z"/><path d="M862.43 473.72L870.13 483.62L862.43 493.52L854.73 483.62Z"/><path d="M868.66 485.80L876.36 495.70L868.66 505.60L860.96 495.70Z"/><path d="M874.89 499.74L882.59 509.64L874.89 519.54L867.19 509.64Z"/><path d="M881.11 514.98L888.81 524.88L881.11 534.78L873.41 524.88Z"/><path d="M887.34 531.02L895.04 540.92L887.34 550.82L879.64 540.92Z"/><path d="M893.57 547.38L901.27 557.28L893.57 567.18L885.87 557.28Z"/><path d="M899.80 563.67L907.50 573.57L899.80 583.47L892.10 573.57Z"/><path d="M906.02 579.25L913.72 589.15L906.02 599.05L898.32 589.15Z"/><path d="M912.25 592.86L919.95 602.76L912.25 612.66L904.55 602.76Z"/><path d="M918.48 603.54L926.18 613.44L918.48 623.34L910.78 613.44Z"/><path d="M924.70 610.83L932.40 620.73L924.70 630.63L917.00 620.73Z"/><path d="M930.93 614.78L938.63 624.68L930.93 634.58L923.23 624.68Z"/><path d="M937.16 615.90L944.86 625.80L937.16 635.70L929.46 625.80Z"/><path d="M943.39 614.20L951.09 624.10L943.39 634.00L935.69 624.10Z"/><path d="M949.61 609.71L957.31 619.61L949.61 629.51L941.91 619.61Z"/><path d="M955.84 603.04L963.54 612.94L955.84 622.84L948.14 612.94Z"/><path d="M962.07 594.77L969.77 604.67L962.07 614.57L954.37 604.67Z"/><path d="M968.30 585.40L976.00 595.30L968.30 605.20L960.60 595.30Z"/><path d="M974.52 575.38L982.22 585.28L974.52 595.18L966.82 585.28Z"/><path d="M980.75 565.10L988.45 575.00L980.75 584.90L973.05 575.00Z"/><path d="M986.98 554.93L994.68 564.83L986.98 574.73L979.28 564.83Z"/><path d="M993.21 545.15L1000.91 555.05L993.21 564.95L985.51 555.05Z"/><path d="M999.43 536.23L1007.13 546.13L999.43 556.03L991.73 546.13Z"/><path d="M1005.66 528.83L1013.36 538.73L1005.66 548.63L997.96 538.73Z"/><path d="M1011.89 523.32L1019.59 533.22L1011.89 543.12L1004.19 533.22Z"/><path d="M1018.12 519.74L1025.82 529.64L1018.12 539.54L1010.42 529.64Z"/><path d="M1024.34 517.90L1032.04 527.80L1024.34 537.70L1016.64 527.80Z"/><path d="M1030.57 517.40L1038.27 527.30L1030.57 537.20L1022.87 527.30Z"/><path d="M1036.80 518.31L1044.50 528.21L1036.80 538.11L1029.10 528.21Z"/><path d="M1043.02 520.70L1050.72 530.60L1043.02 540.50L1035.32 530.60Z"/><path d="M1049.25 524.24L1056.95 534.14L1049.25 544.04L1041.55 534.14Z"/><path d="M1055.48 528.63L1063.18 538.53L1055.48 548.43L1047.78 538.53Z"/><path d="M1061.71 533.60L1069.41 543.50L1061.71 553.40L1054.01 543.50Z"/><path d="M1067.93 538.93L1075.63 548.83L1067.93 558.73L1060.23 548.83Z"/><path d="M1074.16 544.41L1081.86 554.31L1074.16 564.21L1066.46 554.31Z"/><path d="M1080.39 549.88L1088.09 559.78L1080.39 569.68L1072.69 559.78Z"/><path d="M1086.62 555.17L1094.32 565.07L1086.62 574.97L1078.92 565.07Z"/><path d="M1092.84 560.10L1100.54 570.00L1092.84 579.90L1085.14 570.00Z"/><path d="M1099.07 564.35L1106.77 574.25L1099.07 584.15L1091.37 574.25Z"/><path d="M1105.30 567.67L1113.00 577.57L1105.30 587.47L1097.60 577.57Z"/><path d="M1111.53 569.99L1119.23 579.89L1111.53 589.79L1103.83 579.89Z"/><path d="M1117.75 571.36L1125.45 581.26L1117.75 591.16L1110.05 581.26Z"/><path d="M1123.98 571.94L1131.68 581.84L1123.98 591.74L1116.28 581.84Z"/><path d="M1130.21 571.89L1137.91 581.79L1130.21 591.69L1122.51 581.79Z"/><path d="M1136.44 571.11L1144.14 581.01L1136.44 590.91L1128.74 581.01Z"/><path d="M1142.66 569.62L1150.36 579.52L1142.66 589.42L1134.96 579.52Z"/><path d="M1148.89 567.55L1156.59 577.45L1148.89 587.35L1141.19 577.45Z"/><path d="M1155.12 565.01L1162.82 574.91L1155.12 584.81L1147.42 574.91Z"/><path d="M1161.35 562.14L1169.05 572.04L1161.35 581.94L1153.65 572.04Z"/><path d="M1167.57 559.06L1175.27 568.96L1167.57 578.86L1159.87 568.96Z"/><path d="M1173.80 555.90L1181.50 565.80L1173.80 575.70L1166.10 565.80Z"/></g><path d="M127.60,572.40 L133.83,576.15 L140.05,579.99 L146.28,583.76 L152.51,587.28 L158.74,590.34 L164.96,592.76 L171.19,594.34 L177.42,594.90 L183.65,594.57 L189.87,593.17 L196.10,590.17 L202.33,585.24 L208.56,578.44 L214.78,570.24 L221.01,561.44 L227.24,552.37 L233.47,543.08 L239.69,533.79 L245.92,524.72 L252.15,516.12 L258.38,508.29 L264.60,501.61 L270.83,496.55 L277.06,493.70 L283.28,493.53 L289.51,495.78 L295.74,501.16 L301.97,510.20 L308.19,522.86 L314.42,538.50 L320.65,555.89 L326.88,573.69 L333.10,591.61 L339.33,609.20 L345.56,625.95 L351.79,641.28 L358.01,654.57 L364.24,665.10 L370.47,672.07 L376.70,674.60 L382.92,672.58 L389.15,666.03 L395.38,654.48 L401.60,637.93 L407.83,616.94 L414.06,592.59 L420.29,566.35 L426.51,539.57 L432.74,513.00 L438.97,487.71 L445.20,464.78 L451.42,445.28 L457.65,430.24 L463.88,420.57 L470.11,417.01 L476.33,419.55 L482.56,427.69 L488.79,441.29 L495.02,460.01 L501.24,483.30 L507.47,510.36 L513.70,540.22 L519.93,571.68 L526.15,603.51 L532.38,634.29 L538.61,662.52 L544.83,686.77 L551.06,705.77 L557.29,718.49 L563.52,724.27 L569.74,722.89 L575.97,714.59 L582.20,699.79 L588.43,679.20 L594.65,653.77 L600.88,624.66 L607.11,593.15 L613.34,560.59 L619.56,528.35 L625.79,497.79 L632.02,470.19 L638.25,446.70 L644.47,428.24 L650.70,415.51 L656.93,408.93 L663.15,408.73 L669.38,415.26 L675.61,428.02 L681.84,446.23 L688.06,468.95 L694.29,495.14 L700.52,523.70 L706.75,553.47 L712.97,583.42 L719.20,612.39 L725.43,638.57 L731.66,660.38 L737.88,676.71 L744.11,687.05 L750.34,691.52 L756.57,690.43 L762.79,683.70 L769.02,672.23 L775.25,656.96 L781.48,638.73 L787.70,618.31 L793.93,596.41 L800.16,573.69 L806.38,550.80 L812.61,528.50 L818.84,508.43 L825.07,491.99 L831.29,480.05 L837.52,472.85 L843.75,470.02 L849.98,471.15 L856.20,476.42 L862.43,485.02 L868.66,496.16 L874.89,509.18 L881.11,523.51 L887.34,538.64 L893.57,554.12 L899.80,569.53 L906.02,584.51 L912.25,597.78 L918.48,608.26 L924.70,615.42 L930.93,619.32 L937.16,620.50 L943.39,619.17 L949.61,615.28 L955.84,609.43 L962.07,602.16 L968.30,593.93 L974.52,585.11 L980.75,576.04 L986.98,567.02 L993.21,558.29 L999.43,550.23 L1005.66,543.41 L1011.89,538.21 L1018.12,534.73 L1024.34,532.83 L1030.57,532.21 L1036.80,532.84 L1043.03,534.99 L1049.25,538.37 L1055.48,542.63 L1061.71,547.47 L1067.93,552.56 L1074.16,557.65 L1080.39,562.50 L1086.62,566.91 L1092.84,570.68 L1099.07,573.61 L1105.30,575.65 L1111.53,576.90 L1117.75,577.51 L1123.98,577.70 L1130.21,577.50 L1136.44,576.78 L1142.66,575.61 L1148.89,574.06 L1155.12,572.23 L1161.35,570.20 L1167.57,568.06 L1173.80,565.90" fill="none" stroke="#ff00ff" stroke-width="3.6" stroke-linejoin="round" stroke-linecap="round"/><g font-family="'Liberation Sans', sans-serif" font-size="31.5" fill="#000"><text x="114.0" y="26.50" text-anchor="end">1</text><text x="111.0" y="117.56" text-anchor="end">0.5</text><text x="114.3" y="208.62" text-anchor="end">0</text><text x="111.0" y="299.69" text-anchor="end">0.5</text><text x="114.3" y="390.75" text-anchor="end">0</text><text x="109.7" y="481.81" text-anchor="end">-0.5</text><text x="114.3" y="572.88" text-anchor="end">0</text><text x="109.7" y="663.94" text-anchor="end">-0.5</text><text x="112.0" y="755.00" text-anchor="end">-1</text><text x="202.33" y="785.5" text-anchor="middle">3</text><text x="326.88" y="785.5" text-anchor="middle">4</text><text x="451.42" y="785.5" text-anchor="middle">5</text><text x="575.97" y="785.5" text-anchor="middle">6</text><text x="700.52" y="785.5" text-anchor="middle">7</text><text x="825.07" y="785.5" text-anchor="middle">8</text><text x="949.61" y="785.5" text-anchor="middle">9</text><text x="1074.16" y="785.5" text-anchor="middle">10</text></g><text font-family="'Liberation Sans', sans-serif" font-size="35" fill="#000" y="836.7"><tspan x="594.5">q</tspan><tspan x="623.7">(</tspan><tspan x="635.3">Å</tspan><tspan x="666.1" y="821.8" font-size="27">-</tspan><tspan x="673.6" y="821.8" font-size="27">1</tspan><tspan x="694.3" y="836.7">)</tspan></text><g transform="translate(38.9,467) rotate(-90)"><text font-family="'Liberation Sans', sans-serif" font-size="35" fill="#000" y="0"><tspan x="-2.2">k</tspan><tspan x="17.4" y="-15.2" font-size="27.5">2</tspan><tspan x="37.8" y="-5.66" font-size="26.7" stroke="#000" stroke-width="0.6">|</tspan><tspan x="73.0" y="-5.66" font-size="26.7" stroke="#000" stroke-width="0.6">|</tspan><tspan x="90.8" y="0">(</tspan><tspan x="103.3">Å</tspan><tspan x="132.9" y="-15.2" font-size="27.5">-</tspan><tspan x="141.2" font-size="27.5">2</tspan><tspan x="161.8" y="0">)</tspan></text><text font-family="'Liberation Serif', serif" font-size="33.8" fill="#000" transform="translate(70.4,0) scale(-1.3,1)" x="0" y="0">χ</text></g><text font-family="'Liberation Sans', sans-serif" font-size="32" fill="#0000ff"><tspan x="967.3" y="116.9">Fe</tspan><tspan x="1005.5" y="132.6" font-size="25" letter-spacing="0.5">0.93</tspan><tspan x="1062.8" y="116.9">Zr</tspan><tspan x="1097.5" y="132.6" font-size="25" letter-spacing="0.5">0.07</tspan></text><text font-family="'Liberation Sans', sans-serif" font-size="32" fill="#ff0000"><tspan x="964.2" y="302.9">Fe</tspan><tspan x="1002.0" y="318.5" font-size="25" letter-spacing="0.5">0.90</tspan><tspan x="1059.2" y="302.9">Zr</tspan><tspan x="1093.9" y="318.5" font-size="25" letter-spacing="0.5">0.10</tspan></text><text font-family="'Liberation Sans', sans-serif" font-size="32" fill="#000000"><tspan x="958.4" y="489.9">Fe</tspan><tspan x="997.0" y="505.6" font-size="25" letter-spacing="0.5">0.80</tspan><tspan x="1053.7" y="489.9">Zr</tspan><tspan x="1088.4" y="505.6" font-size="25" letter-spacing="0.5">0.20</tspan></text></svg></body></html>
